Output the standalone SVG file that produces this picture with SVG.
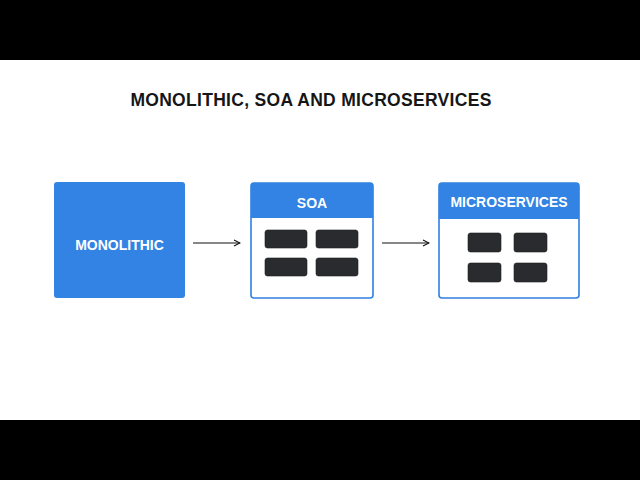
<svg xmlns="http://www.w3.org/2000/svg" width="640" height="480" viewBox="0 0 640 480">
<style>
.t{font-family:"Liberation Sans",Arial,sans-serif;font-weight:bold;fill:#fff;text-anchor:middle}
.blk{fill:#2a2b2e;stroke:#1d1e20;stroke-width:0.6}
.frame{fill:#fff;stroke:#2f80e0;stroke-width:1.6}
.hd{fill:#3283e3}
.ln{stroke:#111;stroke-width:1.2;fill:none}
</style>
<defs><marker id="a" markerWidth="8" markerHeight="8" refX="7" refY="4" orient="auto" markerUnits="userSpaceOnUse"><path d="M1,1 L7,4 L1,7" fill="none" stroke="#111" stroke-width="1.1"/></marker></defs>
<rect width="640" height="480" fill="#fff"/>
<rect width="640" height="60" fill="#000"/>
<rect y="420" width="640" height="60" fill="#000"/>
<text x="311" y="106" font-family="Liberation Sans,Arial,sans-serif" font-weight="bold" font-size="17.5" fill="#161616" text-anchor="middle" letter-spacing="0.3">MONOLITHIC, SOA AND MICROSERVICES</text>
<g id="monolithic"><rect x="54" y="182" width="131" height="116" rx="3" class="hd"/><text x="119.5" y="250" class="t" font-size="14">MONOLITHIC</text></g>
<g id="soa"><rect x="251" y="183" width="122" height="115" rx="3" class="frame"/><path d="M251,218 V186 a3,3 0 0 1 3,-3 H370 a3,3 0 0 1 3,3 V218 Z" class="hd"/><text x="312" y="208" class="t" font-size="14">SOA</text>
<rect x="265" y="230" width="42" height="18" rx="2.5" class="blk"/><rect x="316" y="230" width="42" height="18" rx="2.5" class="blk"/><rect x="265" y="258" width="42" height="18" rx="2.5" class="blk"/><rect x="316" y="258" width="42" height="18" rx="2.5" class="blk"/></g>
<g id="microservices"><rect x="439" y="183" width="140" height="115" rx="3" class="frame"/><path d="M439,219 V186 a3,3 0 0 1 3,-3 H576 a3,3 0 0 1 3,3 V219 Z" class="hd"/><text x="509" y="207" class="t" font-size="14">MICROSERVICES</text>
<rect x="468" y="233" width="33" height="19" rx="2.5" class="blk"/><rect x="514" y="233" width="33" height="19" rx="2.5" class="blk"/><rect x="468" y="263" width="33" height="19" rx="2.5" class="blk"/><rect x="514" y="263" width="33" height="19" rx="2.5" class="blk"/></g>
<g id="connectors"><line x1="193" y1="243" x2="240" y2="243" class="ln" marker-end="url(#a)"/><line x1="382" y1="243" x2="429" y2="243" class="ln" marker-end="url(#a)"/></g>
</svg>
